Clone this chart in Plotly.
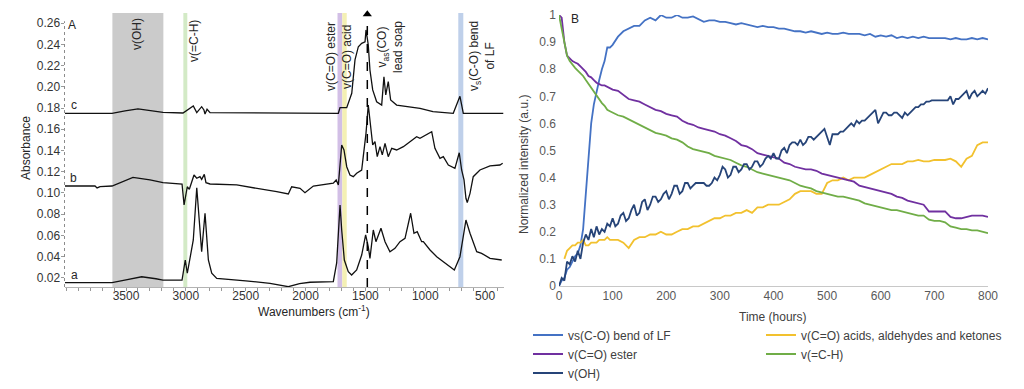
import plotly.graph_objects as go

# page body has an 8px margin, so the figure is drawn 8px in from the top-left
OFF = 8
W, H = 1008, 373

# ---------------- Panel A : FTIR spectra ----------------
wn_a = [4010, 3617, 3500, 3369, 3250, 3191, 3032, 3005, 2988, 2960,
        2938, 2909, 2868, 2840, 2812, 2784, 2742, 2500, 2297, 2144,
        2050, 1963, 1768, 1740, 1712, 1698, 1676, 1643, 1615, 1573,
        1531, 1498, 1476, 1462, 1434, 1412, 1370, 1336, 1295, 1253,
        1211, 1169, 1122, 1094, 1067, 1030, 1016, 960, 904, 849,
        793, 757, 710, 660, 626, 570, 529, 459, 361]
abs_a = [0.0153, 0.0153, 0.018, 0.0209, 0.019, 0.0178, 0.0178, 0.0367, 0.0242, 0.043,
         0.0556, 0.1049, 0.0445, 0.0808, 0.0367, 0.0242, 0.0194, 0.017, 0.0147, 0.0115,
         0.0145, 0.0157, 0.0162, 0.0339, 0.0886, 0.065, 0.0367, 0.0257, 0.0225, 0.0273,
         0.0414, 0.0603, 0.0492, 0.0383, 0.065, 0.054, 0.0666, 0.054, 0.0445, 0.0477,
         0.054, 0.0572, 0.0808, 0.0619, 0.0634, 0.054, 0.054, 0.0461, 0.0398, 0.0351,
         0.0304, 0.0273, 0.0398, 0.0744, 0.0619, 0.0445, 0.043, 0.0383, 0.0367]

wn_b = [4010, 3759, 3742, 3717, 3617, 3442, 3300, 3191, 3032, 3015,
        2988, 2971, 2932, 2909, 2882, 2868, 2846, 2832, 2798, 2575,
        2241, 2144, 2116, 2046, 2005, 1935, 1768, 1744, 1726, 1712,
        1698, 1679, 1656, 1629, 1601, 1573, 1531, 1518, 1495, 1476,
        1456, 1439, 1420, 1401, 1378, 1359, 1336, 1309, 1280, 1239,
        1183, 1127, 1072, 1044, 988, 946, 919, 877, 849, 807,
        752, 716, 696, 676, 660, 649, 626, 599, 543, 459,
        376, 353]
abs_b = [0.1065, 0.1065, 0.1047, 0.106, 0.1065, 0.1147, 0.1122, 0.1096, 0.1084, 0.0886,
         0.1058, 0.1034, 0.1169, 0.1138, 0.1153, 0.1128, 0.1175, 0.1096, 0.1084, 0.1075,
         0.1011, 0.099, 0.1058, 0.1043, 0.1002, 0.1065, 0.1091, 0.1122, 0.1075, 0.1279,
         0.1452, 0.1405, 0.1247, 0.1169, 0.1153, 0.1185, 0.1216, 0.1342, 0.1562, 0.1829,
         0.1625, 0.1452, 0.1483, 0.1342, 0.1436, 0.1358, 0.1468, 0.1342, 0.1421, 0.1405,
         0.1436, 0.1483, 0.153, 0.1515, 0.1546, 0.1577, 0.1421, 0.1326, 0.1342, 0.1263,
         0.1232, 0.1379, 0.1216, 0.1122, 0.0949, 0.0908, 0.0996, 0.1153, 0.1216, 0.1254,
         0.1263, 0.1279]

wn_c = [4010, 3617, 3508, 3400, 3191, 3024, 2938, 2909, 2868, 2849,
        2840, 2823, 2798, 1796, 1726, 1712, 1656, 1614, 1587, 1559,
        1531, 1503, 1495, 1484, 1476, 1462, 1439, 1406, 1364, 1345,
        1330, 1309, 1289, 1239, 1142, 1102, 1044, 935, 766, 710,
        682, 348]
abs_c = [0.1751, 0.1751, 0.1773, 0.1792, 0.176, 0.1754, 0.182, 0.1757, 0.1813, 0.1782,
         0.1744, 0.1789, 0.1757, 0.1751, 0.1751, 0.1804, 0.1804, 0.194, 0.2254, 0.2379,
         0.2411, 0.2426, 0.2537, 0.2458, 0.2395, 0.2159, 0.1971, 0.186, 0.1829, 0.2096,
         0.1924, 0.2049, 0.1876, 0.1829, 0.1813, 0.1808, 0.1798, 0.1766, 0.1751, 0.1911,
         0.1751, 0.1751]

# highlighted spectral regions (cm-1)
band_lo = [3188, 2988, 1693, 1656, 682]
band_hi = [3614, 3021, 1733, 1693, 724]
band_col = ["#cbcbcb", "#d3eac6", "#d2bfe6", "#f4f0b4", "#bfd0ea"]
soap_line_wn = 1484
arrow_top_abs = 0.2685

x_ticks_a = [3500, 3000, 2500, 2000, 1500, 1000, 500]
y_ticks_a = [0.02, 0.04, 0.06, 0.08, 0.10, 0.12, 0.14, 0.16, 0.18, 0.20, 0.22, 0.24, 0.26]

# ---------------- Panel B : normalized intensities ----------------
time_h = [0, 5, 10, 15, 20, 25, 30, 35, 40, 45, 50, 55, 60, 65, 70, 75, 80, 85, 90, 95, 100,
          110, 120, 130, 140, 150, 160, 170, 180, 190, 200,
          210, 220, 230, 240, 250, 260, 270, 280, 290, 300,
          310, 320, 330, 340, 350, 360, 370, 380, 390, 400,
          410, 420, 430, 440, 450, 460, 470, 480, 490, 500,
          510, 520, 530, 540, 550, 560, 570, 580, 590, 600,
          610, 620, 630, 640, 650, 660, 670, 680, 690, 700,
          710, 720, 730, 740, 750, 760, 770, 780, 790, 800]

lf_bend = [0.00, 0.02, 0.03, 0.06, 0.07, 0.09, 0.11, 0.12, 0.15, 0.21, 0.35, 0.49, 0.60, 0.67, 0.72, 0.76, 0.80, 0.83, 0.88, 0.88, 0.89,
           0.92, 0.94, 0.95, 0.96, 0.96, 0.98, 0.99, 0.98, 1.00, 0.99,
           0.99, 1.00, 0.99, 0.99, 0.995, 0.985, 0.975, 0.98, 0.98, 0.975,
           0.975, 0.97, 0.965, 0.97, 0.965, 0.96, 0.955, 0.96, 0.955, 0.955,
           0.95, 0.95, 0.945, 0.94, 0.94, 0.935, 0.94, 0.935, 0.93, 0.935,
           0.93, 0.93, 0.935, 0.93, 0.93, 0.93, 0.925, 0.93, 0.92, 0.925,
           0.92, 0.925, 0.915, 0.92, 0.915, 0.92, 0.915, 0.92, 0.915, 0.915,
           0.915, 0.915, 0.91, 0.915, 0.91, 0.91, 0.915, 0.91, 0.915, 0.91]

acids = [None, None, 0.10, 0.13, 0.14, 0.15, 0.15, 0.16, 0.16, 0.17, 0.15, 0.15, 0.16, 0.16, 0.16, 0.17, 0.17, 0.17, 0.18, 0.17, 0.17,
         0.17, 0.16, 0.14, 0.17, 0.18, 0.18, 0.19, 0.19, 0.20, 0.19,
         0.19, 0.20, 0.21, 0.21, 0.22, 0.22, 0.23, 0.24, 0.25, 0.25,
         0.26, 0.26, 0.27, 0.27, 0.28, 0.27, 0.29, 0.29, 0.30, 0.30,
         0.30, 0.31, 0.32, 0.34, 0.35, 0.35, 0.35, 0.34, 0.34, 0.38,
         0.39, 0.39, 0.40, 0.39, 0.40, 0.40, 0.40, 0.41, 0.42, 0.43,
         0.44, 0.45, 0.45, 0.45, 0.46, 0.46, 0.465, 0.46, 0.46, 0.465,
         0.465, 0.465, 0.47, 0.46, 0.44, 0.47, 0.48, 0.52, 0.53, 0.53]

ester = [1.00, 0.99, 0.90, 0.85, 0.84, 0.83, 0.825, 0.82, 0.81, 0.80, 0.79, 0.775, 0.77, 0.76, 0.75, 0.745, 0.74, 0.74, 0.735, 0.73, 0.725,
         0.72, 0.705, 0.69, 0.685, 0.68, 0.67, 0.66, 0.65, 0.645, 0.635,
         0.63, 0.625, 0.61, 0.60, 0.595, 0.585, 0.58, 0.575, 0.57, 0.56,
         0.555, 0.545, 0.535, 0.52, 0.515, 0.505, 0.49, 0.485, 0.48, 0.475,
         0.47, 0.455, 0.45, 0.44, 0.435, 0.43, 0.43, 0.425, 0.415, 0.41,
         0.405, 0.40, 0.395, 0.39, 0.385, 0.37, 0.365, 0.36, 0.355, 0.35,
         0.345, 0.34, 0.33, 0.325, 0.315, 0.31, 0.305, 0.30, 0.275, 0.275,
         0.275, 0.275, 0.255, 0.25, 0.25, 0.255, 0.26, 0.26, 0.26, 0.255]

ch_stretch = [1.00, 0.95, 0.89, 0.85, 0.83, 0.815, 0.805, 0.795, 0.785, 0.775, 0.76, 0.745, 0.73, 0.715, 0.70, 0.685, 0.675, 0.665, 0.65, 0.645, 0.64,
              0.63, 0.625, 0.615, 0.605, 0.595, 0.585, 0.575, 0.565, 0.56, 0.555,
              0.545, 0.54, 0.53, 0.515, 0.505, 0.50, 0.495, 0.49, 0.48, 0.475,
              0.47, 0.465, 0.455, 0.445, 0.44, 0.43, 0.42, 0.415, 0.41, 0.405,
              0.40, 0.395, 0.39, 0.38, 0.37, 0.365, 0.36, 0.35, 0.345, 0.34,
              0.335, 0.33, 0.33, 0.325, 0.32, 0.315, 0.305, 0.30, 0.295, 0.29,
              0.285, 0.28, 0.28, 0.275, 0.27, 0.265, 0.26, 0.26, 0.245, 0.24,
              0.24, 0.235, 0.22, 0.215, 0.21, 0.21, 0.205, 0.205, 0.20, 0.195]

# v(OH) is sampled more densely (noisier trace)
time_oh = [0, 5, 10, 15, 20, 25, 30, 35, 40, 45,
           50, 55, 60, 65, 70, 75, 80, 85, 90, 95,
           100, 105, 110, 115, 120, 125, 130, 135, 140, 145,
           150, 155, 160, 165, 170, 175, 180, 185, 190, 195,
           200, 205, 210, 215, 220, 225, 230, 235, 240, 245,
           250, 255, 260, 265, 270, 275, 280, 285, 290, 295,
           300, 305, 310, 315, 320, 325, 330, 335, 340, 345,
           350, 355, 360, 365, 370, 375, 380, 385, 390, 395,
           400, 405, 410, 415, 420, 425, 430, 435, 440, 445,
           450, 455, 460, 465, 470, 475, 480, 485, 490, 495,
           500, 505, 510, 515, 520, 525, 530, 535, 540, 545,
           550, 555, 560, 565, 570, 575, 580, 585, 590, 595,
           600, 605, 610, 615, 620, 625, 630, 635, 640, 645,
           650, 655, 660, 665, 670, 675, 680, 685, 690, 695,
           700, 705, 710, 715, 720, 725, 730, 735, 740, 745,
           750, 755, 760, 765, 770, 775, 780, 785, 790, 795,
           800]
oh_stretch = [0.00, 0.03, 0.02, 0.09, 0.08, 0.11, 0.09, 0.13, 0.10, 0.16,
              0.19, 0.17, 0.21, 0.18, 0.22, 0.19, 0.21, 0.20, 0.23, 0.22,
              0.25, 0.22, 0.23, 0.26, 0.27, 0.24, 0.25, 0.28, 0.30, 0.26,
              0.27, 0.31, 0.32, 0.28, 0.30, 0.33, 0.33, 0.31, 0.32, 0.34,
              0.35, 0.32, 0.34, 0.37, 0.37, 0.34, 0.35, 0.38, 0.38, 0.36,
              0.37, 0.38, 0.38, 0.38, 0.38, 0.37, 0.37, 0.38, 0.40, 0.39,
              0.41, 0.44, 0.43, 0.40, 0.41, 0.44, 0.44, 0.42, 0.43, 0.45,
              0.45, 0.43, 0.44, 0.46, 0.46, 0.44, 0.45, 0.47, 0.48, 0.47,
              0.49, 0.47, 0.47, 0.50, 0.51, 0.49, 0.52, 0.53, 0.53, 0.52,
              0.54, 0.52, 0.53, 0.55, 0.55, 0.54, 0.55, 0.56, 0.57, 0.58,
              0.55, 0.52, 0.56, 0.56, 0.56, 0.57, 0.57, 0.58, 0.59, 0.60,
              0.59, 0.61, 0.60, 0.61, 0.61, 0.62, 0.63, 0.64, 0.65, 0.60,
              0.62, 0.64, 0.64, 0.63, 0.63, 0.64, 0.64, 0.63, 0.62, 0.64,
              0.63, 0.64, 0.65, 0.66, 0.66, 0.67, 0.67, 0.68, 0.68, 0.685,
              0.685, 0.685, 0.685, 0.685, 0.685, 0.685, 0.70, 0.67, 0.69, 0.69,
              0.70, 0.71, 0.72, 0.69, 0.71, 0.72, 0.70, 0.71, 0.72, 0.71,
              0.73]

series_names = ["vs(C-O) bend of LF", "v(C=O) acids, aldehydes and ketones",
                "v(C=O) ester", "v(=C-H)", "v(OH)"]
series_time = [time_h, time_h, time_h, time_h, time_oh]
series_vals = [lf_bend, acids, ester, ch_stretch, oh_stretch]
series_cols = ["#4472C4", "#F2C12E", "#7030A0", "#70AD47", "#264478"]
series_leg = ["legend", "legend2", "legend", "legend2", "legend"]


def px(x):
    return (x - OFF) / W


def py(y):
    return 1 - (y - OFF) / H


FONT = "Arial, Liberation Sans, sans-serif"

fig = go.Figure()

for wn, ab in [(wn_a, abs_a), (wn_b, abs_b), (wn_c, abs_c)]:
    fig.add_trace(go.Scatter(x=wn, y=ab, mode="lines", xaxis="x", yaxis="y",
                             line=dict(color="#111111", width=1.3), showlegend=False,
                             hoverinfo="skip"))

# arrow head at top of the dashed lead-soap line
fig.add_trace(go.Scatter(x=[soap_line_wn], y=[arrow_top_abs], mode="markers", xaxis="x", yaxis="y",
                         marker=dict(symbol="triangle-up", size=8, color="black"),
                         showlegend=False, cliponaxis=False, hoverinfo="skip"))

for name, tt, vals, col, leg in zip(series_names, series_time, series_vals, series_cols, series_leg):
    fig.add_trace(go.Scatter(x=tt, y=vals, mode="lines", name=name, xaxis="x2", yaxis="y2",
                             line=dict(color=col, width=1.8), legend=leg))

shapes = []
for lo, hi, col in zip(band_lo, band_hi, band_col):
    shapes.append(dict(type="rect", xref="x", yref="y domain", x0=lo, x1=hi, y0=0, y1=1,
                       fillcolor=col, line=dict(width=0), layer="below"))
# dashed line for lead soap
shapes.append(dict(type="line", xref="x", yref="y", x0=soap_line_wn, x1=soap_line_wn,
                   y0=0.01123, y1=arrow_top_abs - 0.004, line=dict(color="black", width=1.5, dash="dash")))
# dotted left axis of panel A
shapes.append(dict(type="line", xref="x domain", yref="y domain", x0=0, x1=0, y0=0, y1=0.97,
                   line=dict(color="#8c8c8c", width=1, dash="dot")))

ann = []


def label(text, x, y, size=12, angle=0, color="#262626", align="center"):
    ann.append(dict(text=text, x=px(x), y=py(y), xref="paper", yref="paper",
                    xanchor="center", yanchor="middle", showarrow=False, textangle=angle,
                    align=align, font=dict(family=FONT, size=size, color=color)))


label("A", 72, 25, 12)
label("c", 74, 105, 12)
label("b", 73, 178, 12)
label("a", 74, 275, 12)
label("v(OH)", 137, 34, 12, -90)
label("v(=C-H)", 194, 41, 12, -90)
label("v(C=O) ester", 331, 57, 12, -90)
label("v(C=O) acid", 347, 57, 12, -90)
label("v<sub>as</sub>(CO)<br>lead soap", 390, 47, 12, -90)
label("v<sub>s</sub>(C-O) bend<br>of LF", 482, 56, 12, -90)
label("Absorbance", 26, 148, 12, -90)
label("Wavenumbers (cm<sup>-1</sup>)", 314, 311, 12)
label("B", 575, 19, 12)
label("Normalized intensity (a.u.)", 524, 165, 12, -90, "#404040")
label("Time (hours)", 773, 317, 12, 0, "#404040")

fig.update_layout(
    width=W, height=H, autosize=False,
    margin=dict(l=0, r=0, t=0, b=0, pad=0, autoexpand=False),
    paper_bgcolor="white", plot_bgcolor="white",
    font=dict(family=FONT, size=12, color="#333333"),
    shapes=shapes, annotations=ann,
    xaxis=dict(domain=[px(64.5), px(504)], range=[4014, 342], tickmode="array", tickvals=x_ticks_a,
               automargin=False, ticklabelstandoff=-5,
               showgrid=False, zeroline=False, showline=True, linecolor="#b3b3b3", linewidth=1,
               ticks="outside", ticklen=3, tickcolor="#999999",
               minor=dict(tickmode="linear", tick0=0, dtick=100, ticks="outside", ticklen=3, tickcolor="#999999"),
               tickfont=dict(family=FONT, size=12, color="#333333")),
    yaxis=dict(domain=[py(287), py(13)], range=[0.01123, 0.2697], tickmode="array", tickvals=y_ticks_a,
               automargin=False, ticklabelstandoff=-2,
               tickformat=".2f", showgrid=False, zeroline=False, showline=False,
               ticks="outside", ticklen=3, tickcolor="#999999",
               tickfont=dict(family=FONT, size=12, color="#333333")),
    xaxis2=dict(domain=[px(559), px(988)], range=[0, 800], dtick=100, tick0=0, anchor="y2",
                automargin=False, ticklabelstandoff=-1,
                showgrid=False, zeroline=False, showline=True, linecolor="#c8c8c8", linewidth=1,
                ticks="", tickfont=dict(family=FONT, size=12, color="#595959")),
    yaxis2=dict(domain=[py(286), py(15)], range=[0, 1], dtick=0.1, tick0=0, anchor="x2",
                automargin=False, ticklabelstandoff=2,
                showgrid=False, zeroline=False, showline=False, ticks="",
                tickfont=dict(family=FONT, size=12, color="#595959")),
    legend=dict(x=px(528), xanchor="left", y=py(320.5), yanchor="top", orientation="v",
                bgcolor="rgba(0,0,0,0)", font=dict(family=FONT, size=12, color="#404040"),
                traceorder="normal"),
    legend2=dict(x=px(761), xanchor="left", y=py(320.5), yanchor="top", orientation="v",
                 bgcolor="rgba(0,0,0,0)", font=dict(family=FONT, size=12, color="#404040"),
                 traceorder="normal"),
)

fig.write_html("out.html")
